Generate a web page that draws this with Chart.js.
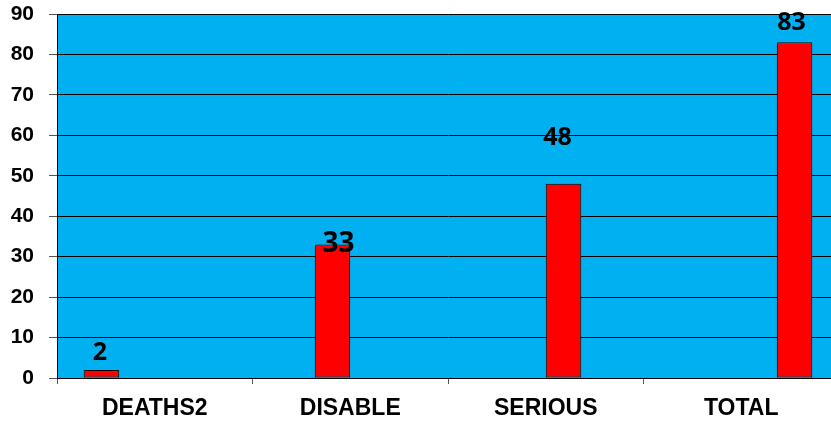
<!DOCTYPE html>
<html><head><meta charset="utf-8">
<script src="https://cdn.jsdelivr.net/npm/chart.js@4/dist/chart.umd.min.js"></script>
<style>
html,body{margin:0;padding:0;background:#fff;overflow:hidden}
#wrap{width:831px;height:423px;overflow:hidden;position:relative}
canvas{display:block}
</style></head>
<body>
<div id="wrap"><canvas id="c" width="845" height="423" style="width:845px;height:423px"></canvas></div>
<script>
const categories = ['DEATHS2', 'DISABLE', 'SERIOUS', 'TOTAL'];
const values = [2, 33, 48, 83];
const yMin = 0, yMax = 90, yStep = 10;

const bgPlugin = {
  id: 'bgPlugin',
  beforeDraw(chart) {
    const {ctx, chartArea: a} = chart;
    ctx.save();
    ctx.fillStyle = '#ffffff';
    ctx.fillRect(0, 0, chart.width, chart.height);
    ctx.fillStyle = '#00B0F0';
    ctx.fillRect(a.left, a.top, a.right - a.left, a.bottom - a.top);
    ctx.restore();
  }
};

const valueLabels = {
  id: 'valueLabels',
  afterDatasetsDraw(chart, args, opts) {
    const ctx = chart.ctx;
    ctx.save();
    ctx.fillStyle = opts.color;
    ctx.textAlign = 'center';
    ctx.textBaseline = 'alphabetic';
    chart.data.datasets.forEach((ds, i) => {
      const meta = chart.getDatasetMeta(i);
      meta.data.forEach((bar, j) => {
        const v = ds.data[j];
        if (v == null) return;
        const off = opts.offsets[j] || [0, -8];
        ctx.font = 'bold ' + (opts.sizes[j] || 25) + 'px ' + opts.family;
        ctx.fillText(String(v), bar.x + off[0], bar.y + off[1]);
      });
    });
    ctx.restore();
  }
};

const datasets = categories.map((c, i) => ({
  label: c,
  data: categories.map((_, j) => (j === i ? values[i] : null)),
  backgroundColor: '#FF0000',
  borderColor: '#000000',
  borderWidth: 1,
  borderSkipped: false,
  categoryPercentage: 0.727,
  barPercentage: 1.0
}));

new Chart(document.getElementById('c'), {
  type: 'bar',
  data: { labels: categories, datasets },
  plugins: [bgPlugin, valueLabels],
  options: {
    responsive: false,
    devicePixelRatio: 1,
    animation: false,
    layout: { padding: { left: 0, right: 6, top: 14, bottom: 0 } },
    plugins: {
      legend: { display: false },
      tooltip: { enabled: false },
      valueLabels: {
        family: '"Open Sans", "Liberation Sans", sans-serif',
        sizes: [25, 28, 25, 25],
        color: '#000000',
        offsets: [[-1.5, -10], [6, 7.5], [-6, -39], [-3, -12.5]]
      }
    },
    scales: {
      x: {
        offset: true,
        grid: { display: true, drawOnChartArea: false, offset: true, tickLength: 6, tickColor: '#555555', lineWidth: 1 },
        border: { display: true, color: '#000000', width: 1 },
        ticks: { color: '#000000', padding: 11, font: { family: '"Liberation Sans", Arial, sans-serif', size: 23, weight: 'bold' } },
        afterFit(s) { s.height = 45; s.paddingLeft = 0; s.paddingRight = 0; }
      },
      y: {
        min: yMin, max: yMax,
        grid: { color: '#000000', lineWidth: 1, tickLength: 8, tickColor: '#555555' },
        border: { display: true, color: '#000000', width: 1 },
        ticks: { stepSize: yStep, color: '#000000', padding: 15, font: { family: '"Liberation Sans", Arial, sans-serif', size: 21, weight: 'bold' } },
        afterFit(s) { s.width = 57; s.paddingTop = 0; s.paddingBottom = 0; }
      }
    }
  }
});
</script>
</body></html>
